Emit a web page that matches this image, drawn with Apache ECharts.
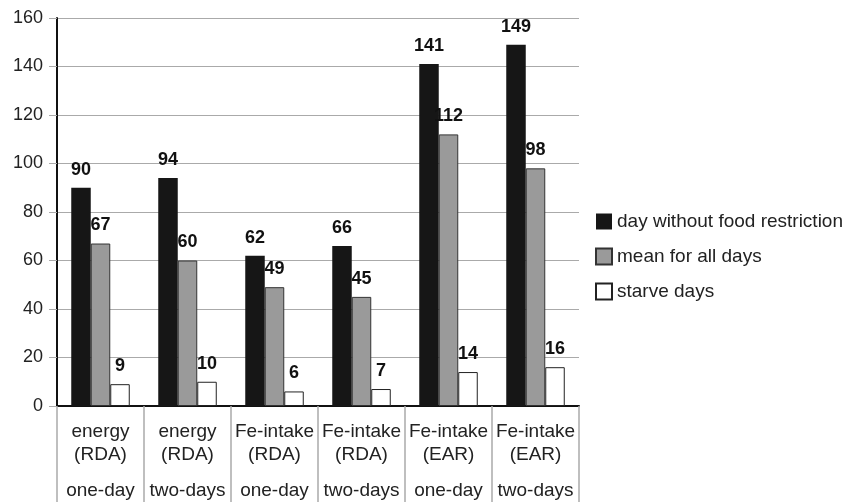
<!DOCTYPE html>
<html>
<head>
<meta charset="utf-8">
<script src="https://cdn.jsdelivr.net/npm/echarts@6/dist/echarts.min.js"></script>
<style>
  html, body { margin: 0; padding: 0; background: #fff; }
  #chart { width: 856px; height: 502px; }
</style>
</head>
<body>
<div id="chart"></div>
<script>
const categories = ['energy\n(RDA)', 'energy\n(RDA)', 'Fe-intake\n(RDA)', 'Fe-intake\n(RDA)', 'Fe-intake\n(EAR)', 'Fe-intake\n(EAR)'];
const periods = ['one-day', 'two-days', 'one-day', 'two-days', 'one-day', 'two-days'];
const seriesNames = ['day without food restriction', 'mean for all days', 'starve days'];
const dayWithoutRestriction = [90, 94, 62, 66, 141, 149];
const meanAllDays = [67, 60, 49, 45, 112, 98];
const starveDays = [9, 10, 6, 7, 14, 16];

const FONT = '"Liberation Sans", Arial, Helvetica, sans-serif';
const chart = echarts.init(document.getElementById('chart'), null, { renderer: 'canvas' });

const labelCfg = {
  show: true,
  position: 'top',
  distance: 9,
  fontFamily: FONT,
  fontSize: 18,
  fontWeight: 'bold',
  color: '#111'
};

chart.setOption({
  animation: false,
  backgroundColor: '#ffffff',
  textStyle: { fontFamily: FONT },
  grid: { left: 57, top: 18, width: 522, height: 388, containLabel: false },
  legend: {
    orient: 'vertical',
    left: 595,
    top: 212,
    padding: 0,
    itemWidth: 16,
    itemHeight: 16,
    itemGap: 16,
    icon: 'rect',
    textStyle: { fontFamily: FONT, fontSize: 19, color: '#222' },
    data: seriesNames
  },
  xAxis: [
    {
      type: 'category',
      data: categories,
      axisLine: { show: true, lineStyle: { color: '#111', width: 2 } },
      axisTick: { show: true, length: 96, interval: 0, lineStyle: { color: '#aaaaaa', width: 1.5 } },
      axisLabel: { interval: 0, margin: 14, fontFamily: FONT, fontSize: 19, lineHeight: 23, color: '#222' },
      splitLine: { show: false }
    },
    {
      type: 'category',
      data: periods,
      position: 'bottom',
      axisLine: { show: false },
      axisTick: { show: false },
      axisLabel: { interval: 0, margin: 75, fontFamily: FONT, fontSize: 19, lineHeight: 20, color: '#222' },
      splitLine: { show: false }
    }
  ],
  yAxis: {
    type: 'value',
    min: 0,
    max: 160,
    interval: 20,
    axisLine: { show: true, lineStyle: { color: '#111', width: 2 } },
    axisTick: { show: true, length: 8, lineStyle: { color: '#aaaaaa' } },
    axisLabel: { margin: 14, fontFamily: FONT, fontSize: 18, color: '#222' },
    splitLine: { show: true, lineStyle: { color: '#aaaaaa', width: 1 } }
  },
  series: [
    {
      name: seriesNames[0],
      type: 'bar',
      data: dayWithoutRestriction,
      barWidth: 19.5,
      barGap: '0%',
      itemStyle: { color: '#161616', borderColor: '#161616', borderWidth: 0 },
      label: labelCfg
    },
    {
      name: seriesNames[1],
      type: 'bar',
      data: meanAllDays,
      barWidth: 19.5,
      barGap: '0%',
      itemStyle: { color: '#9a9a9a', borderColor: '#333333', borderWidth: 1 },
      label: labelCfg
    },
    {
      name: seriesNames[2],
      type: 'bar',
      data: starveDays,
      barWidth: 19.5,
      barGap: '0%',
      itemStyle: { color: '#ffffff', borderColor: '#222222', borderWidth: 1 },
      label: labelCfg
    }
  ]
});
</script>
</body>
</html>
